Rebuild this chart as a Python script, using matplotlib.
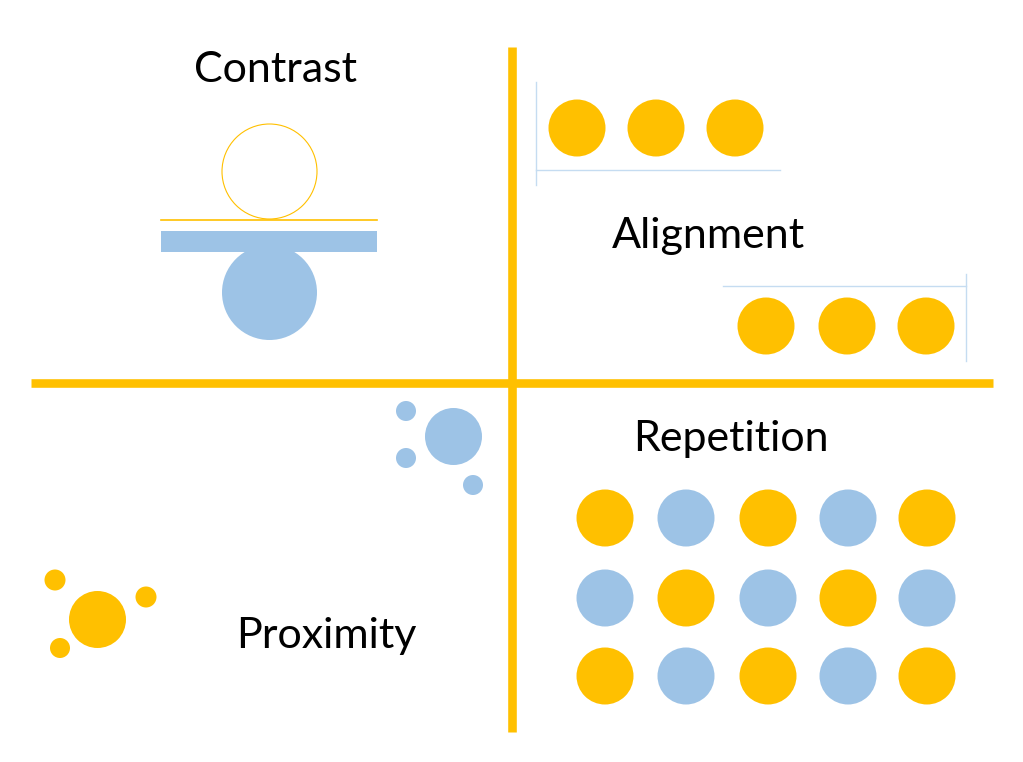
import matplotlib.pyplot as plt
from matplotlib.patches import Circle, Rectangle

# couleurs
orange = '#FFC000'
bleu = '#9DC3E6'
bleu_clair = '#C5DCF1'

# titres des quatre quadrants (texte, x, y de la ligne de base)
titres = ['Contrast', 'Alignment', 'Proximity', 'Repetition']
titres_x = [275, 708, 326, 731]
titres_y = [82, 248, 648, 451]

# Contrast
cercle_vide = (269.5, 171.5)
cercle_plein = (269.5, 292.5)
rayon_contrast = 47.5

# Alignment
align_haut_x = [577, 656, 735]
align_haut_y = 128
align_bas_x = [766, 847, 926]
align_bas_y = 326

# Proximity : (x, y, rayon)
prox_bleu = [(453.5, 436.5, 28.5), (406, 411, 10), (406, 458, 10), (473, 485, 10)]
prox_orange = [(97.5, 619.5, 28.5), (55, 580, 10.5), (146, 597, 10.5), (60, 648, 10)]

# Repetition
rep_x = [605, 686, 768, 848, 927]
rep_y = [518, 598, 676]
rep_motif = [['o', 'b', 'o', 'b', 'o'],
             ['b', 'o', 'b', 'o', 'b'],
             ['o', 'b', 'o', 'b', 'o']]

r = 28.5

fig = plt.figure(figsize=(10.23, 7.62), dpi=100)
ax = fig.add_axes([0, 0, 1, 1])
ax.set_xlim(0, 1023)
ax.set_ylim(762, 0)
ax.axis('off')

# grandes lignes de séparation
ax.plot([512, 512], [47, 732], color=orange, lw=6.2, solid_capstyle='butt')
ax.plot([31, 993], [383, 383], color=orange, lw=6.2, solid_capstyle='butt')

for t, x, y in zip(titres, titres_x, titres_y):
    ax.text(x, y, t, ha='center', va='baseline', fontsize=31, family='Lato', color='black')

# Contrast
ax.add_patch(Circle(cercle_vide, rayon_contrast, facecolor='none', edgecolor=orange, lw=0.8))
ax.plot([161, 377], [220, 220], color=orange, lw=1.2)
ax.add_patch(Circle(cercle_plein, rayon_contrast, facecolor=bleu, edgecolor='none'))
ax.add_patch(Rectangle((161, 231), 216, 21, facecolor=bleu, edgecolor='none'))

# Alignment
for x in align_haut_x:
    ax.add_patch(Circle((x, align_haut_y), r, facecolor=orange, edgecolor='none'))
for x in align_bas_x:
    ax.add_patch(Circle((x, align_bas_y), r, facecolor=orange, edgecolor='none'))
ax.plot([536, 536], [82, 185], color=bleu_clair, lw=1)
ax.plot([536, 780], [170, 170], color=bleu_clair, lw=1)
ax.plot([723, 966], [286, 286], color=bleu_clair, lw=1)
ax.plot([966, 966], [274, 361], color=bleu_clair, lw=1)

# Proximity
for x, y, rr in prox_bleu:
    ax.add_patch(Circle((x, y), rr, facecolor=bleu, edgecolor='none'))
for x, y, rr in prox_orange:
    ax.add_patch(Circle((x, y), rr, facecolor=orange, edgecolor='none'))

# Repetition
for i, y in enumerate(rep_y):
    for j, x in enumerate(rep_x):
        c = orange if rep_motif[i][j] == 'o' else bleu
        ax.add_patch(Circle((x, y), r, facecolor=c, edgecolor='none'))

plt.savefig('out.png', dpi=100)
